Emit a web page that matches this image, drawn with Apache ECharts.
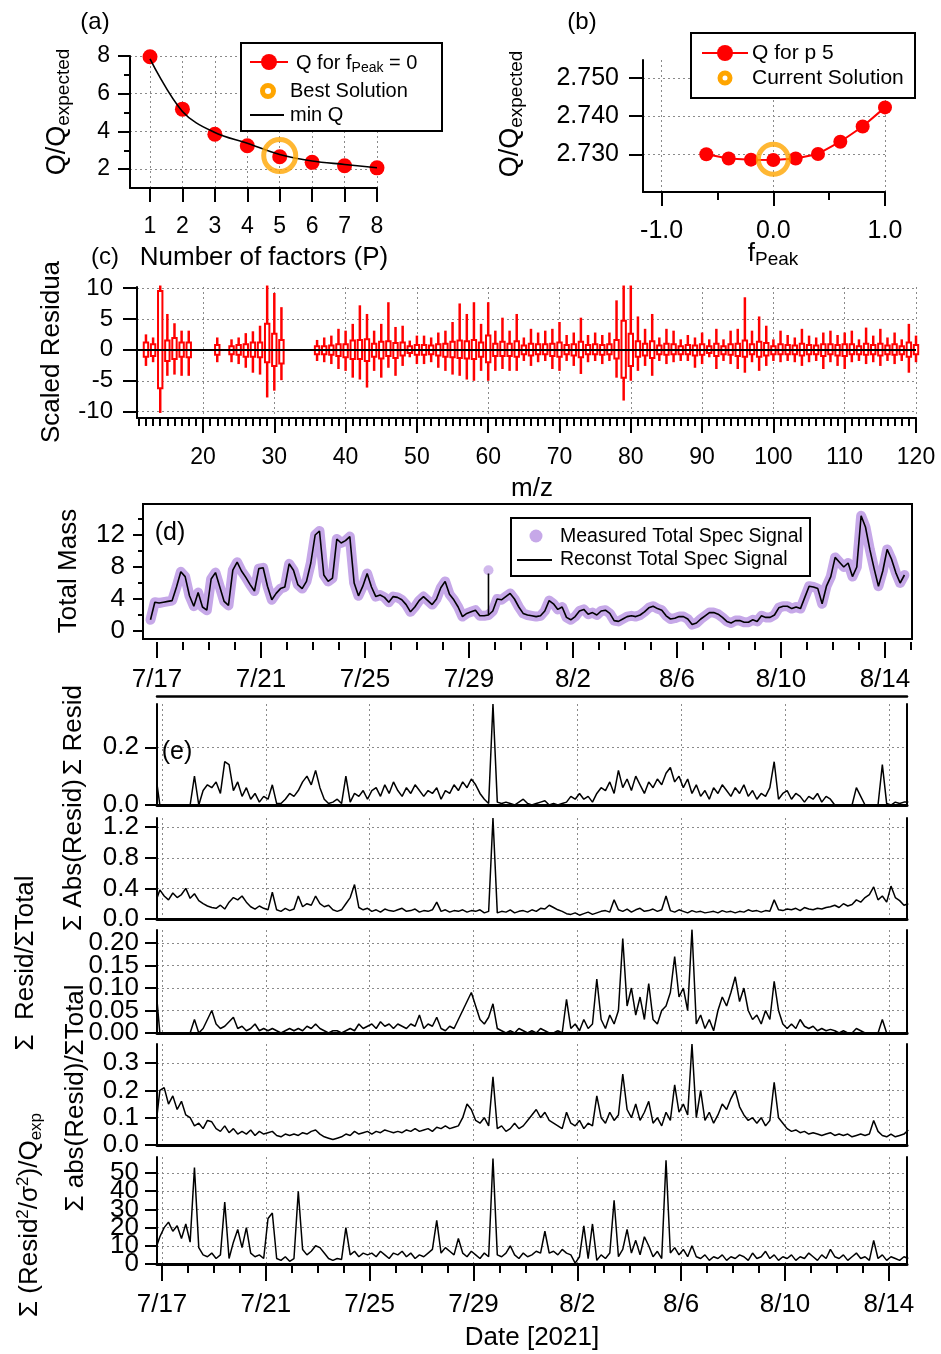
<!DOCTYPE html>
<html>
<head>
<meta charset="utf-8">
<script src="https://cdn.jsdelivr.net/npm/echarts@6/dist/echarts.min.js"></script>
<style>
  html, body { margin: 0; padding: 0; background: #ffffff; }
  #chart { width: 941px; height: 1354px; }
</style>
</head>
<body>
<div id="chart"></div>
<script>
// ---------------- (a) Q/Qexp versus number of factors ----------------
const factorCounts = [1, 2, 3, 4, 5, 6, 7, 8];
const qForFpeak0 = [7.96, 5.18, 3.85, 3.24, 2.66, 2.36, 2.18, 2.07];
const minQ = [7.85, 5.06, 3.94, 3.37, 2.78, 2.43, 2.25, 2.07];
const bestSolution = [5, 2.72];

// ---------------- (b) Q/Qexp versus fPeak (5 factors) ----------------
const fPeakValues = [-0.6, -0.4, -0.2, 0.0, 0.2, 0.4, 0.6, 0.8, 1.0];
const qForP5 = [2.7300, 2.7289, 2.7286, 2.7285, 2.7289, 2.7301, 2.7333, 2.7373, 2.7423];
const currentSolution = [0.0, 2.7287];

// ---------------- (c) scaled residuals per m/z ----------------
const mzValues = [12, 13, 14, 15, 16, 17, 18, 22, 24, 25, 26, 27, 28, 29, 30, 31,
  36, 37, 38, 39, 40, 41, 42, 43, 44, 45, 46, 47, 48, 49, 50, 51, 52, 53, 54, 55,
  56, 57, 58, 59, 60, 61, 62, 63, 64, 65, 66, 67, 68, 69, 70, 71, 72, 73, 74, 75,
  76, 77, 78, 79, 80, 81, 82, 83, 84, 85, 86, 87, 88, 89, 90, 91, 92, 93, 94, 95,
  96, 97, 98, 99, 100, 101, 102, 103, 104, 105, 106, 107, 108, 109, 110, 111, 112,
  113, 114, 115, 116, 117, 118, 119, 120];
const whiskerHigh = [2.5, 2.0, 10.4, 5.8, 4.3, 3.1, 3.1, 2.0, 1.7, 2.0, 2.7, 3.0, 3.9, 10.4, 9.2, 6.9,
  1.6, 2.0, 2.3, 3.4, 3.1, 4.2, 7.2, 5.8, 3.1, 4.2, 7.7, 3.7, 3.9, 1.5, 2.3, 2.3, 2.0, 2.8, 3.1, 4.5,
  7.5, 5.8, 7.7, 4.2, 7.7, 3.1, 5.2, 3.1, 5.8, 2.0, 3.4, 2.8, 3.1, 3.4, 4.5, 2.4, 2.8, 5.2, 2.4, 2.8,
  2.4, 2.8, 8.0, 10.4, 10.4, 5.4, 3.4, 5.8, 2.0, 3.4, 3.1, 1.7, 2.4, 2.0, 2.8, 1.7, 3.4, 1.7, 3.1, 3.4,
  8.5, 3.1, 5.4, 3.9, 1.7, 3.1, 2.4, 2.0, 3.4, 2.3, 2.0, 2.8, 3.1, 2.4, 2.8, 3.1, 1.7,
  3.6, 2.3, 3.4, 2.0, 2.8, 1.7, 4.2, 2.3];
const boxHigh = [1.2, 0.9, 9.5, 1.5, 1.9, 1.2, 1.2, 0.8, 0.6, 0.8, 0.9, 1.2, 1.2, 4.2, 2.6, 1.6,
  0.6, 0.6, 0.7, 0.9, 0.9, 1.5, 1.6, 1.7, 1.0, 1.3, 1.4, 1.1, 1.2, 0.6, 0.8, 0.8, 0.7, 0.9, 1.0, 1.3,
  1.5, 1.4, 1.6, 1.2, 2.3, 1.0, 1.3, 1.0, 1.4, 0.7, 1.0, 0.9, 0.9, 1.0, 1.2, 0.8, 0.9, 1.3, 0.8, 0.9,
  0.8, 0.9, 1.6, 4.7, 2.6, 1.4, 1.0, 1.4, 0.7, 1.0, 0.9, 0.6, 0.8, 0.7, 0.9, 0.6, 1.0, 0.6, 0.9, 1.0,
  1.5, 0.9, 1.3, 1.1, 0.6, 0.9, 0.8, 0.7, 1.0, 0.8, 0.7, 0.9, 0.9, 0.8, 0.9, 0.9, 0.6,
  1.0, 0.8, 1.0, 0.7, 0.9, 0.6, 1.2, 0.8];
const boxLow = [-1.1, -1.0, -6.2, -1.8, -1.5, -1.1, -1.2, -0.8, -0.7, -0.8, -1.1, -1.1, -1.2, -2.0, -2.6, -2.2,
  -0.7, -0.7, -0.8, -1.0, -1.2, -1.5, -1.5, -1.8, -1.1, -1.4, -1.0, -1.3, -0.9, -0.5, -0.8, -0.8, -0.7, -0.9, -1.1, -1.2,
  -1.3, -1.4, -1.5, -1.1, -2.0, -1.0, -1.0, -1.0, -1.1, -0.7, -0.9, -0.7, -0.7, -1.0, -1.1, -0.7, -0.9, -1.2, -0.7, -0.7,
  -0.8, -0.7, -1.4, -4.5, -2.6, -1.1, -0.9, -1.3, -0.7, -0.8, -0.7, -0.7, -0.7, -0.9, -0.8, -0.5, -1.0, -0.7, -0.8, -1.0,
  -1.1, -0.7, -1.1, -0.9, -0.7, -0.7, -0.7, -0.7, -0.9, -0.7, -0.7, -1.0, -0.7, -0.9, -1.0, -0.7, -0.7,
  -0.8, -0.7, -0.9, -0.7, -0.8, -0.7, -1.1, -0.7];
const whiskerLow = [-2.6, -2.0, -10.2, -4.2, -4.0, -4.2, -4.2, -2.0, -2.0, -2.3, -2.9, -3.7, -4.0, -7.7, -6.6, -4.9,
  -1.8, -2.0, -2.3, -3.1, -3.4, -4.5, -4.8, -6.1, -3.4, -4.5, -2.9, -4.2, -2.6, -1.2, -2.3, -2.3, -2.0, -2.9, -3.4, -4.0,
  -4.2, -4.8, -5.0, -3.4, -5.0, -3.4, -3.1, -3.4, -3.4, -1.8, -2.6, -2.0, -1.8, -3.1, -3.4, -1.8, -2.6, -3.9, -2.0, -1.8,
  -2.3, -1.8, -4.5, -8.2, -5.0, -3.4, -2.6, -4.2, -1.8, -2.3, -2.0, -1.8, -1.8, -2.9, -2.3, -1.2, -3.1, -1.8, -2.3, -3.1,
  -3.7, -2.0, -3.4, -2.6, -1.8, -2.0, -1.8, -2.0, -2.6, -2.0, -1.8, -3.1, -2.0, -2.6, -3.1, -2.0, -1.8,
  -2.3, -2.0, -2.6, -1.8, -2.3, -1.8, -3.7, -2.0];

// ---------------- (d), (e) time series: 4-hourly samples from 7/16 18:00 ----------------
const sampleStartDay = -0.25;          // days relative to 7/17 00:00
const sampleStepDays = 1 / 6;          // 4 hours
const dateTickLabels = ['7/17', '7/21', '7/25', '7/29', '8/2', '8/6', '8/10', '8/14'];

const totalSignal = [
  1.4, 3.6, 3.5, 3.6, 3.7, 3.8, 5.5, 7.4, 6.8, 4.4, 3.1, 4.8, 3.0, 2.6, 6.5, 7.3, 5.5, 3.7, 3.2, 7.6,
  8.6, 7.5, 6.7, 5.8, 5.0, 7.8, 7.9, 5.6, 3.9, 4.7, 5.3, 5.5, 8.4, 7.6, 5.8, 5.3, 6.2, 8.5, 12.0, 12.5,
  7.0, 6.2, 6.6, 11.5, 11.0, 11.3, 11.8, 6.0, 4.4, 5.6, 7.2, 5.5, 4.3, 4.5, 4.2, 3.6, 4.3, 4.2, 3.9, 3.3,
  2.4, 3.0, 3.8, 4.3, 3.8, 3.3, 4.0, 5.4, 6.2, 4.6, 3.9, 3.0, 1.8, 2.2, 2.4, 2.6, 1.9, 1.9, 2.0, 2.5,
  4.0, 3.9, 4.3, 4.7, 4.0, 3.0, 2.2, 2.0, 1.9, 1.8, 1.9, 2.5, 3.8, 3.4, 2.7, 3.0, 1.7, 1.4, 1.8, 2.5,
  2.7, 2.1, 2.3, 2.0, 2.5, 2.6, 2.2, 1.3, 1.2, 1.5, 1.8, 1.9, 1.8, 2.0, 2.4, 2.9, 3.1, 2.8, 2.6, 1.9,
  1.5, 1.6, 1.8, 1.8, 1.5, 0.8, 1.0, 1.5, 1.9, 2.3, 2.3, 2.1, 1.7, 1.2, 1.0, 1.3, 1.3, 1.1, 1.1, 1.4,
  1.2, 1.9, 1.7, 1.7, 2.0, 2.9, 3.1, 3.1, 2.8, 3.0, 2.8, 4.2, 5.6, 5.5, 5.3, 3.4, 5.6, 6.8, 9.2, 8.6,
  8.0, 8.5, 6.8, 8.0, 14.4, 13.0, 10.2, 7.8, 5.6, 7.5, 10.2, 9.0, 7.3, 6.0, 7.0
];
// isolated sample on 7/29 where the measured signal jumps away from the baseline
const spikeSampleIndex = 78;
const reconstSpikeValue = 7.2;
const measuredSpikeValue = 7.6;

const sumResid = [
  0.11, 0,
  0, 0, 0, 0, 0, 0,
  0, 0.10, 0, 0.05, 0.07, 0.06,
  0.08, 0.04, 0.15, 0.14, 0.05, 0.08,
  0.03, 0.06, 0.02, 0.04, 0.01, 0.03,
  0.02, 0.07, 0.005, 0.005, 0.02, 0.04,
  0.03, 0.05, 0.08, 0.10, 0.07, 0.12,
  0.06, 0.02, 0.005, 0.01, 0.02, 0.005,
  0.10, 0.01, 0.04, 0.03, 0.05, 0.02,
  0.05, 0.06, 0.03, 0.07, 0.04, 0.08,
  0.05, 0.03, 0.06, 0.04, 0.07, 0.05,
  0.03, 0.05, 0.04, 0.06, 0.02, 0.05,
  0.04, 0.07, 0.05, 0.08, 0.06, 0.09,
  0.07, 0.04, 0.02, 0.005, 0.35, 0.01,
  0.005, 0.01, 0.005, 0, 0.01, 0.02,
  0.005, 0, 0.005, 0.01, 0.015, 0,
  0.005, 0, 0.005, 0.01, 0.03, 0.02,
  0.04, 0.02, 0.03, 0.01, 0.04, 0.06,
  0.05, 0.08, 0.04, 0.12, 0.06, 0.09,
  0.05, 0.10, 0.07, 0.04, 0.08, 0.06,
  0.09, 0.07, 0.11, 0.13, 0.08, 0.10,
  0.06, 0.09, 0.04, 0.07, 0.03, 0.05,
  0.02, 0.06, 0.04, 0.07, 0.05, 0.03,
  0.06, 0.04, 0.07, 0.03, 0.05, 0.02,
  0.04, 0.03, 0.06, 0.15, 0.02, 0.04,
  0.05, 0.02, 0.04, 0.03, 0.01, 0.03,
  0.02, 0.04, 0.01, 0.03, 0.02, 0,
  0, 0, 0, 0, 0.06, 0.03,
  0, 0, 0, 0, 0.14, 0.005,
  0, 0.01, 0.005, 0.01, 0.01
];
const sumAbsResid = [
  0.22, 0.38,
  0.30, 0.25, 0.34, 0.28, 0.32, 0.40,
  0.27, 0.33, 0.24, 0.20, 0.17, 0.15,
  0.14, 0.18, 0.13, 0.22, 0.28, 0.25,
  0.30, 0.22, 0.16, 0.13, 0.17, 0.14,
  0.12, 0.35, 0.12, 0.10, 0.14, 0.11,
  0.13, 0.30, 0.16, 0.20, 0.18, 0.30,
  0.20, 0.16, 0.18, 0.12, 0.10, 0.12,
  0.20, 0.28, 0.45, 0.15, 0.12, 0.14,
  0.10, 0.12, 0.09, 0.13, 0.11, 0.10,
  0.12, 0.14, 0.10, 0.11, 0.13, 0.09,
  0.11, 0.10, 0.12, 0.22, 0.10, 0.12,
  0.09, 0.11, 0.10, 0.12, 0.09, 0.11,
  0.10, 0.12, 0.08, 0.10, 1.32, 0.08,
  0.10, 0.09, 0.12, 0.08, 0.10, 0.11,
  0.09, 0.12, 0.10, 0.14, 0.13, 0.18,
  0.15, 0.12, 0.10, 0.07, 0.06, 0.08,
  0.05, 0.07, 0.09, 0.06, 0.08, 0.10,
  0.11, 0.09, 0.25, 0.12, 0.10, 0.13,
  0.09, 0.12, 0.14, 0.10, 0.11, 0.13,
  0.10, 0.12, 0.30, 0.11, 0.09, 0.12,
  0.10, 0.08, 0.11, 0.09, 0.10, 0.08,
  0.09, 0.10, 0.08, 0.11, 0.09, 0.10,
  0.08, 0.10, 0.09, 0.12, 0.10, 0.11,
  0.09, 0.11, 0.10, 0.25, 0.12, 0.11,
  0.13, 0.12, 0.14, 0.11, 0.15, 0.13,
  0.12, 0.14, 0.13, 0.15, 0.16, 0.18,
  0.15, 0.20, 0.17, 0.19, 0.25, 0.22,
  0.28, 0.32, 0.42, 0.25, 0.30, 0.22,
  0.43, 0.28, 0.24, 0.18, 0.20
];
const residOverTotal = [
  0.11, 0,
  0, 0, 0, 0, 0, 0,
  0, 0.03, 0, 0.01, 0.03, 0.05,
  0.02, 0.01, 0.015, 0.025, 0.035, 0.01,
  0.015, 0.005, 0.01, 0.02, 0.005, 0.01,
  0.005, 0.01, 0.005, 0, 0.005, 0.01,
  0.005, 0.01, 0.005, 0.015, 0.01, 0.02,
  0.01, 0.005, 0, 0.005, 0.005, 0,
  0.005, 0.01, 0.005, 0.02, 0.01, 0.015,
  0.02, 0.01, 0.025, 0.015, 0.02, 0.01,
  0.02, 0.015, 0.01, 0.02, 0.015, 0.04,
  0.01, 0.02, 0.015, 0.035, 0.01, 0.005,
  0.015, 0.01, 0.03, 0.05, 0.07, 0.09,
  0.06, 0.03, 0.02, 0.035, 0.065, 0.01,
  0.005, 0, 0.005, 0, 0.01, 0.005,
  0, 0.005, 0, 0.01, 0.005, 0,
  0, 0.005, 0, 0.075, 0.01, 0.02,
  0.005, 0.03, 0.01, 0.02, 0.12, 0.03,
  0.01, 0.04, 0.02, 0.05, 0.21, 0.06,
  0.10, 0.04, 0.08, 0.03, 0.11, 0.03,
  0.02, 0.05, 0.06, 0.09, 0.17, 0.08,
  0.10, 0.05, 0.23, 0.02, 0.04, 0.01,
  0.03, 0.005, 0.05, 0.08, 0.06, 0.09,
  0.125, 0.07, 0.10, 0.05, 0.03, 0.04,
  0.02, 0.05, 0.03, 0.115, 0.05, 0.02,
  0.01, 0.02, 0.01, 0.03, 0.015, 0.01,
  0.015, 0.005, 0.01, 0.005, 0.008, 0.005,
  0, 0.005, 0, 0, 0.01, 0.005,
  0, 0, 0, 0, 0.03, 0,
  0, 0, 0, 0, 0
];
const absResidOverTotal = [
  0.06, 0.20,
  0.21, 0.15, 0.18, 0.13, 0.16, 0.11,
  0.10, 0.07, 0.08, 0.06, 0.09, 0.085,
  0.06, 0.05, 0.07, 0.045, 0.06, 0.04,
  0.05, 0.04, 0.055, 0.035, 0.05, 0.04,
  0.045, 0.05, 0.035, 0.03, 0.04, 0.035,
  0.04, 0.035, 0.045, 0.04, 0.05, 0.055,
  0.04, 0.03, 0.025, 0.02, 0.025, 0.03,
  0.04, 0.035, 0.05, 0.04, 0.045, 0.05,
  0.04, 0.05, 0.045, 0.055, 0.05, 0.045,
  0.05, 0.045, 0.055, 0.05, 0.06, 0.05,
  0.055, 0.06, 0.05, 0.065, 0.06, 0.07,
  0.06, 0.065, 0.07, 0.10, 0.15, 0.13,
  0.09, 0.08, 0.10, 0.07, 0.25, 0.06,
  0.07, 0.05, 0.06, 0.08, 0.06, 0.07,
  0.09, 0.11, 0.13, 0.10, 0.12, 0.09,
  0.08, 0.07, 0.06, 0.12, 0.08, 0.07,
  0.09, 0.06, 0.08, 0.07, 0.18, 0.10,
  0.08, 0.12, 0.09, 0.11, 0.26, 0.13,
  0.10, 0.15, 0.09, 0.12, 0.16, 0.08,
  0.10, 0.07, 0.12, 0.09, 0.22, 0.12,
  0.15, 0.11, 0.37, 0.10, 0.20, 0.09,
  0.12, 0.08, 0.11, 0.15, 0.13, 0.17,
  0.20, 0.14, 0.11, 0.09, 0.10, 0.08,
  0.10, 0.07, 0.09, 0.23, 0.10, 0.08,
  0.06, 0.05, 0.055, 0.045, 0.05, 0.04,
  0.045, 0.04, 0.035, 0.04, 0.045, 0.035,
  0.04, 0.035, 0.04, 0.03, 0.035, 0.04,
  0.035, 0.04, 0.09, 0.05, 0.035, 0.03,
  0.04, 0.03, 0.035, 0.04, 0.055
];
const scaledResidSq = [
  8, 15,
  20, 23, 18, 21, 14, 22,
  12, 53, 9, 5, 4, 6,
  3, 5, 34, 3, 12, 19,
  9, 20, 6, 4, 5, 3,
  25, 28, 3, 2, 4, 1.5,
  3, 40, 8, 5, 7, 10,
  9, 6, 3, 2, 3, 2.5,
  20, 5, 7, 4, 6, 5,
  6, 4, 7, 5, 3, 6,
  5, 7, 4, 6, 3, 5,
  4, 6, 8, 24, 6, 9,
  7, 5, 14, 6, 4, 7,
  5, 3, 6, 4, 58, 5,
  4, 6, 10, 5, 3, 6,
  4, 5, 7, 6, 18, 6,
  7, 5, 8, 6, 5, 0.5,
  4, 21, 3, 22, 2, 5,
  3, 6, 35, 4, 8, 19,
  6, 13, 5, 15, 10, 4,
  7, 3, 57, 6, 9, 5,
  8, 4, 10, 4, 3, 5,
  2, 4, 3, 5, 2, 4,
  3, 5, 4, 2, 6, 3,
  4, 7, 3, 5, 2, 4,
  3, 5, 2, 4, 3, 6,
  4, 2, 5, 3, 8, 4,
  3, 5, 2, 4, 6, 3,
  4, 2, 13, 3, 5, 2,
  4, 3, 2, 4, 3
];

// ---------------- axis tick values ----------------
const factorTicks = [1, 2, 3, 4, 5, 6, 7, 8];
const qTicks = [2, 4, 6, 8];
const qMinorTicks = [3, 5, 7];
const fPeakTicks = [-1, 0, 1];
const fPeakMinorTicks = [-0.5, 0.5];
const qExpTicks = [2.730, 2.740, 2.750];
const mzTicks = [20, 30, 40, 50, 60, 70, 80, 90, 100, 110, 120];
const residTicks = [-10, -5, 0, 5, 10];
const massTicks = [0, 4, 8, 12];
const massMinorTicks = [2, 6, 10, 14];
const sumResidTicks = [0, 0.2];
const sumAbsResidTicks = [0, 0.4, 0.8, 1.2];
const residOverTotalTicks = [0, 0.05, 0.10, 0.15, 0.20];
const absResidOverTotalTicks = [0, 0.1, 0.2, 0.3];
const scaledResidSqTicks = [0, 10, 20, 30, 40, 50];

// ---------------- helpers ----------------
const FONT = '"Liberation Sans", Arial, Helvetica, sans-serif';
const BLACK = '#000000';
const RED = '#ff0000';
const ORANGE = '#ffa500';
const LAVENDER = '#c6a8e8';
const GRID_GRAY = '#8a8a8a';

const DAY0 = Date.UTC(2021, 6, 17);
function dayOffset(label) {
  const parts = label.split('/').map(Number);
  return (Date.UTC(2021, parts[0] - 1, parts[1]) - DAY0) / 86400000;
}
function dayLabel(v) {
  const dt = new Date(DAY0 + Math.round(v) * 86400000);
  return (dt.getUTCMonth() + 1) + '/' + dt.getUTCDate();
}
const dateTickDays = dateTickLabels.map(dayOffset);
const sampleDays = totalSignal.map((_, i) => sampleStartDay + i * sampleStepDays);
function zip(xs, ys) { return xs.map((x, i) => [x, ys[i]]); }
function wholeNumbers(lo, hi) {
  const out = [];
  for (let d = Math.ceil(lo); d <= hi; d++) out.push(d);
  return out;
}

function valAxis(o) {
  const ticks = o.ticks || [];
  return {
    type: 'value',
    gridIndex: o.grid,
    position: o.position,
    offset: o.offset || 0,
    min: o.min,
    max: o.max,
    silent: true,
    axisLine: { show: !!o.line, onZero: false, lineStyle: { color: BLACK, width: o.line || 2 } },
    axisTick: {
      show: !!o.tickLen, inside: false, length: o.tickLen || 0, customValues: ticks,
      lineStyle: { color: BLACK, width: o.tickWidth || 2 }
    },
    axisLabel: o.fmt
      ? { show: true, customValues: ticks, formatter: o.fmt, margin: o.margin, color: BLACK,
          fontFamily: FONT, fontSize: o.fontSize, showMinLabel: true, showMaxLabel: true,
          hideOverlap: false }
      : { show: false },
    splitLine: o.split
      ? { show: true, lineStyle: { color: GRID_GRAY, width: 1, type: [2, 3] } }
      : { show: false },
    minorTick: { show: false },
    minorSplitLine: { show: false },
    splitArea: { show: false }
  };
}

const grids = [], xAxes = [], yAxes = [], series = [], graphics = [];
function addGrid(g) { grids.push(Object.assign({ containLabel: false, outerBoundsMode: 'none' }, g)); return grids.length - 1; }
function addX(o) { xAxes.push(valAxis(o)); return xAxes.length - 1; }
function addY(o) { yAxes.push(valAxis(o)); return yAxes.length - 1; }

// ---------------- panel (a) ----------------
{
  const g = addGrid({ left: 130, top: 56, width: 247, height: 132 });
  const xi = addX({ grid: g, position: 'bottom', min: 0.383, max: 8, ticks: factorTicks, line: 2,
    tickLen: 14, fmt: v => String(v), fontSize: 23, margin: 27, split: true });
  const yi = addY({ grid: g, position: 'left', min: 1, max: 8, ticks: qTicks, line: 2,
    tickLen: 12, fmt: v => String(v), fontSize: 23, margin: 20, split: true });
  addY({ grid: g, position: 'left', min: 1, max: 8, ticks: qMinorTicks, tickLen: 6 });
  series.push({
    type: 'line', name: 'Q for fPeak = 0', xAxisIndex: xi, yAxisIndex: yi,
    data: zip(factorCounts, qForFpeak0), symbol: 'circle', symbolSize: 15,
    itemStyle: { color: RED }, lineStyle: { opacity: 0 }, z: 3
  });
  series.push({
    type: 'line', name: 'min Q', xAxisIndex: xi, yAxisIndex: yi,
    data: zip(factorCounts, minQ), smooth: 0.35, symbol: 'none',
    lineStyle: { color: BLACK, width: 1.6 }, z: 4
  });
  series.push({
    type: 'scatter', name: 'Best Solution', xAxisIndex: xi, yAxisIndex: yi,
    data: [bestSolution], symbolSize: 32,
    itemStyle: { color: 'rgba(0,0,0,0)', borderColor: ORANGE, borderWidth: 5 }, z: 5
  });
}

// ---------------- panel (b) ----------------
{
  const g = addGrid({ left: 643, top: 60, width: 242, height: 132 });
  const xi = addX({ grid: g, position: 'bottom', min: -1.167, max: 1.0, ticks: fPeakTicks, line: 2,
    tickLen: 14, fmt: v => v.toFixed(1), fontSize: 25, margin: 27, split: true });
  addX({ grid: g, position: 'bottom', min: -1.167, max: 1.0, ticks: fPeakMinorTicks, tickLen: 8 });
  const yi = addY({ grid: g, position: 'left', min: 2.72012, max: 2.75472, ticks: qExpTicks, line: 2,
    tickLen: 14, fmt: v => v.toFixed(3), fontSize: 25, margin: 24, split: true });
  series.push({
    type: 'line', name: 'Q for p 5', xAxisIndex: xi, yAxisIndex: yi,
    data: zip(fPeakValues, qForP5), symbol: 'circle', symbolSize: 14,
    itemStyle: { color: RED }, lineStyle: { color: RED, width: 2 }, z: 3
  });
  series.push({
    type: 'scatter', name: 'Current Solution', xAxisIndex: xi, yAxisIndex: yi,
    data: [currentSolution], symbolSize: 30,
    itemStyle: { color: 'rgba(0,0,0,0)', borderColor: ORANGE, borderWidth: 5 }, z: 5
  });
}

// ---------------- panel (c) ----------------
{
  const g = addGrid({ left: 137, top: 287, width: 779, height: 131 });
  const xi = addX({ grid: g, position: 'bottom', min: 10.743, max: 120, ticks: mzTicks, line: 2,
    tickLen: 15, fmt: v => String(v), fontSize: 23, margin: 28, split: true });
  addX({ grid: g, position: 'bottom', min: 10.743, max: 120, ticks: wholeNumbers(11, 120), tickLen: 8 });
  const yi = addY({ grid: g, position: 'left', min: -11.02, max: 10.16, ticks: residTicks, line: 2,
    tickLen: 14, fmt: v => String(v), fontSize: 24, margin: 24, split: true });
  // zero reference line under the boxes
  series.push({
    type: 'line', xAxisIndex: xi, yAxisIndex: yi, data: [], z: 1, silent: true,
    markLine: {
      silent: true, symbol: 'none', label: { show: false }, animation: false,
      lineStyle: { color: BLACK, width: 2, type: 'solid' }, data: [{ yAxis: 0 }]
    }
  });
  series.push({
    type: 'custom', name: 'Scaled residual', xAxisIndex: xi, yAxisIndex: yi, z: 2, clip: false,
    data: mzValues.map((m, i) => [m, whiskerLow[i], boxLow[i], boxHigh[i], whiskerHigh[i]]),
    encode: { x: 0, y: [1, 2, 3, 4] },
    renderItem: function (params, api) {
      const m = api.value(0);
      const lo = api.coord([m, api.value(1)]);
      const q1 = api.coord([m, api.value(2)]);
      const q3 = api.coord([m, api.value(3)]);
      const hi = api.coord([m, api.value(4)]);
      const half = 2.2;
      return {
        type: 'group',
        children: [
          { type: 'line', shape: { x1: lo[0], y1: lo[1], x2: hi[0], y2: hi[1] },
            style: { stroke: RED, lineWidth: 2.5 } },
          { type: 'rect', shape: { x: q3[0] - half, y: q3[1], width: half * 2, height: q1[1] - q3[1] },
            style: { fill: '#ffffff', stroke: RED, lineWidth: 2 } }
        ]
      };
    }
  });
}

// ---------------- panel (d) ----------------
{
  const g = addGrid({ left: 143, top: 504, width: 769, height: 135, show: true,
    borderColor: BLACK, borderWidth: 2, backgroundColor: 'rgba(0,0,0,0)' });
  const xi = addX({ grid: g, position: 'bottom', offset: 3, min: -0.538, max: 29.04, ticks: dateTickDays,
    tickLen: 16, fmt: dayLabel, fontSize: 26, margin: 25 });
  addX({ grid: g, position: 'bottom', offset: 3, min: -0.538, max: 29.04, ticks: wholeNumbers(0, 29.04), tickLen: 8 });
  const yi = addY({ grid: g, position: 'left', min: -1, max: 15.875, ticks: massTicks,
    tickLen: 10, fmt: v => String(v), fontSize: 26, margin: 18 });
  addY({ grid: g, position: 'left', min: -1, max: 15.875, ticks: massMinorTicks, tickLen: 5 });
  series.push({
    type: 'line', name: 'Measured Total Spec Signal', xAxisIndex: xi, yAxisIndex: yi,
    data: zip(sampleDays, totalSignal), symbol: 'none', z: 1,
    lineStyle: { color: LAVENDER, width: 10, cap: 'round', join: 'round' }
  });
  series.push({
    type: 'scatter', name: 'Measured Total Spec Signal', xAxisIndex: xi, yAxisIndex: yi,
    data: [[sampleDays[spikeSampleIndex], measuredSpikeValue]], symbolSize: 10,
    itemStyle: { color: LAVENDER }, z: 1
  });
  series.push({
    type: 'line', name: 'Reconst Total Spec Signal', xAxisIndex: xi, yAxisIndex: yi,
    data: zip(sampleDays, totalSignal), symbol: 'none', z: 3,
    lineStyle: { color: BLACK, width: 1.6 }
  });
  series.push({
    type: 'line', name: 'Reconst Total Spec Signal', xAxisIndex: xi, yAxisIndex: yi,
    data: [[sampleDays[spikeSampleIndex], totalSignal[spikeSampleIndex]],
           [sampleDays[spikeSampleIndex], reconstSpikeValue]],
    symbol: 'none', z: 3, lineStyle: { color: BLACK, width: 1.6 }
  });
}

// ---------------- panel (e): five stacked residual diagnostics ----------------
{
  const stack = [
    { values: sumResid, ticks: sumResidTicks, top: 704, height: 101, max: 0.35, digits: 1 },
    { values: sumAbsResid, ticks: sumAbsResidTicks, top: 818, height: 101, max: 1.32, digits: 1 },
    { values: residOverTotal, ticks: residOverTotalTicks, top: 930, height: 103, max: 0.229, digits: 2 },
    { values: absResidOverTotal, ticks: absResidOverTotalTicks, top: 1044, height: 101, max: 0.37, digits: 1 },
    { values: scaledResidSq, ticks: scaledResidSqTicks, top: 1157, height: 107, max: 58.8, digits: 0 }
  ];
  const xMin = -0.193, xMax = 28.70;
  stack.forEach((p, idx) => {
    const last = idx === stack.length - 1;
    const g = addGrid({ left: 157, top: p.top, width: 750, height: p.height });
    const xi = addX({ grid: g, position: 'bottom', min: xMin, max: xMax, ticks: dateTickDays, line: 3,
      tickLen: last ? 17 : 0, fmt: last ? dayLabel : null, fontSize: 26, margin: 28, split: true });
    if (last) {
      addX({ grid: g, position: 'bottom', min: xMin, max: xMax, ticks: wholeNumbers(0, xMax), tickLen: 9 });
    }
    if (idx === 0) {
      addX({ grid: g, position: 'top', offset: 8, min: xMin, max: xMax, line: 2.5 });
    }
    // tick labels sit closer than their font height, so alternate ticks live on two
    // coincident axes and every label stays drawn (they overlap, as in the original plot)
    const fmt = v => v.toFixed(p.digits);
    const evenTicks = p.ticks.filter((_, i) => i % 2 === 0);
    const oddTicks = p.ticks.filter((_, i) => i % 2 === 1);
    const yi = addY({ grid: g, position: 'left', min: 0, max: p.max, ticks: evenTicks, line: 2,
      tickLen: 12, fmt: fmt, fontSize: 26, margin: 18, split: true });
    addY({ grid: g, position: 'left', min: 0, max: p.max, ticks: oddTicks,
      tickLen: 12, fmt: fmt, fontSize: 26, margin: 18, split: true });
    addY({ grid: g, position: 'right', min: 0, max: p.max, line: 2 });
    series.push({
      type: 'line', xAxisIndex: xi, yAxisIndex: yi, data: zip(sampleDays, p.values),
      symbol: 'none', lineStyle: { color: BLACK, width: 1.5 }, z: 3
    });
  });
}

// ---------------- text, titles and legends ----------------
function txt(x, y, text, size, extra) {
  const el = {
    type: 'text', x: x, y: y, silent: true, z: 100,
    style: {
      text: text, fill: BLACK, fontFamily: FONT, fontSize: size,
      align: 'center', verticalAlign: 'middle', textAlign: 'center', textVerticalAlign: 'middle'
    }
  };
  if (extra) {
    if (extra.style) Object.assign(el.style, extra.style);
    if (extra.rotation !== undefined) el.rotation = extra.rotation;
  }
  return el;
}
const UP = Math.PI / 2;
function subRich(main, sub) {
  return {
    m: { fontSize: main, fontFamily: FONT, fill: BLACK, lineHeight: main + 4, verticalAlign: 'middle' },
    s: { fontSize: sub, fontFamily: FONT, fill: BLACK, lineHeight: main + 4, verticalAlign: 'bottom' },
    p: { fontSize: sub, fontFamily: FONT, fill: BLACK, lineHeight: main + 4, verticalAlign: 'top' }
  };
}

graphics.push(
  txt(95, 22, '(a)', 24),
  txt(582, 22, '(b)', 24),
  txt(105, 257, '(c)', 24),
  txt(170, 533, '(d)', 25),
  txt(177, 752, '(e)', 25),
  txt(264, 258, 'Number of factors (P)', 26),
  txt(773, 254, '{m|f}{s|Peak}', 26, { style: { rich: subRich(26, 19) } }),
  txt(532, 489, 'm/z', 26),
  txt(532, 1338, 'Date [2021]', 26),
  txt(58, 112, '{m|Q/Q}{s|expected}', 27, { rotation: UP, style: { rich: subRich(27, 19) } }),
  txt(511, 114, '{m|Q/Q}{s|expected}', 27, { rotation: UP, style: { rich: subRich(27, 19) } }),
  txt(52, 352, 'Scaled Residua', 26, { rotation: UP }),
  txt(69, 571, 'Total Mass', 26, { rotation: UP }),
  txt(74, 730, 'Σ Resid', 26, { rotation: UP }),
  txt(74, 855, 'Σ Abs(Resid)', 26, { rotation: UP }),
  txt(26, 963, 'Σ  Resid/ΣTotal', 26, { rotation: UP }),
  txt(76, 1098, 'Σ abs(Resid)/ΣTotal', 26, { rotation: UP }),
  txt(30, 1215, '{m|Σ (Resid}{p|2}{m|/σ}{p|2}{m|)/Q}{s|exp}', 26, { rotation: UP, style: { rich: subRich(26, 17) } })
);

// legend (a)
graphics.push(
  { type: 'rect', z: 90, silent: true, shape: { x: 241, y: 43, width: 201, height: 88 },
    style: { fill: '#ffffff', stroke: BLACK, lineWidth: 2 } },
  { type: 'line', z: 91, silent: true, shape: { x1: 250, y1: 62, x2: 288, y2: 62 }, style: { stroke: RED, lineWidth: 2 } },
  { type: 'circle', z: 92, silent: true, shape: { cx: 269, cy: 62, r: 8 }, style: { fill: RED } },
  txt(296, 63, '{m|Q for f}{s|Peak}{m| = 0}', 20, { style: { align: 'left', textAlign: 'left', rich: subRich(20, 14) } }),
  { type: 'circle', z: 92, silent: true, shape: { cx: 268, cy: 91, r: 5.5 }, style: { fill: '#ffffff', stroke: ORANGE, lineWidth: 5 } },
  txt(290, 91, 'Best Solution', 20, { style: { align: 'left', textAlign: 'left' } }),
  { type: 'line', z: 91, silent: true, shape: { x1: 250, y1: 115, x2: 284, y2: 115 }, style: { stroke: BLACK, lineWidth: 2 } },
  txt(290, 115, 'min Q', 20, { style: { align: 'left', textAlign: 'left' } })
);
// legend (b)
graphics.push(
  { type: 'rect', z: 90, silent: true, shape: { x: 691, y: 33, width: 224, height: 65 },
    style: { fill: '#ffffff', stroke: BLACK, lineWidth: 2 } },
  { type: 'line', z: 91, silent: true, shape: { x1: 702, y1: 53, x2: 748, y2: 53 }, style: { stroke: RED, lineWidth: 2 } },
  { type: 'circle', z: 92, silent: true, shape: { cx: 725, cy: 53, r: 8 }, style: { fill: RED } },
  txt(752, 53, 'Q for p 5', 21, { style: { align: 'left', textAlign: 'left' } }),
  { type: 'circle', z: 92, silent: true, shape: { cx: 725, cy: 78, r: 5 }, style: { fill: '#ffffff', stroke: ORANGE, lineWidth: 5 } },
  txt(752, 78, 'Current Solution', 21, { style: { align: 'left', textAlign: 'left' } })
);
// legend (d)
graphics.push(
  { type: 'rect', z: 90, silent: true, shape: { x: 511, y: 518, width: 299, height: 58 },
    style: { fill: '#ffffff', stroke: BLACK, lineWidth: 2 } },
  { type: 'circle', z: 92, silent: true, shape: { cx: 536, cy: 536, r: 6.5 }, style: { fill: LAVENDER } },
  txt(560, 537, 'Measured Total Spec Signal', 19.5, { style: { align: 'left', textAlign: 'left' } }),
  { type: 'line', z: 91, silent: true, shape: { x1: 517, y1: 560, x2: 552, y2: 560 }, style: { stroke: BLACK, lineWidth: 2 } },
  txt(560, 560, 'Reconst Total Spec Signal', 19.5, { style: { align: 'left', textAlign: 'left' } })
);

const chart = echarts.init(document.getElementById('chart'), null, { renderer: 'canvas' });
chart.setOption({
  backgroundColor: '#ffffff',
  animation: false,
  textStyle: { fontFamily: FONT, color: BLACK },
  grid: grids,
  xAxis: xAxes,
  yAxis: yAxes,
  series: series,
  graphic: graphics
});
</script>
</body>
</html>
